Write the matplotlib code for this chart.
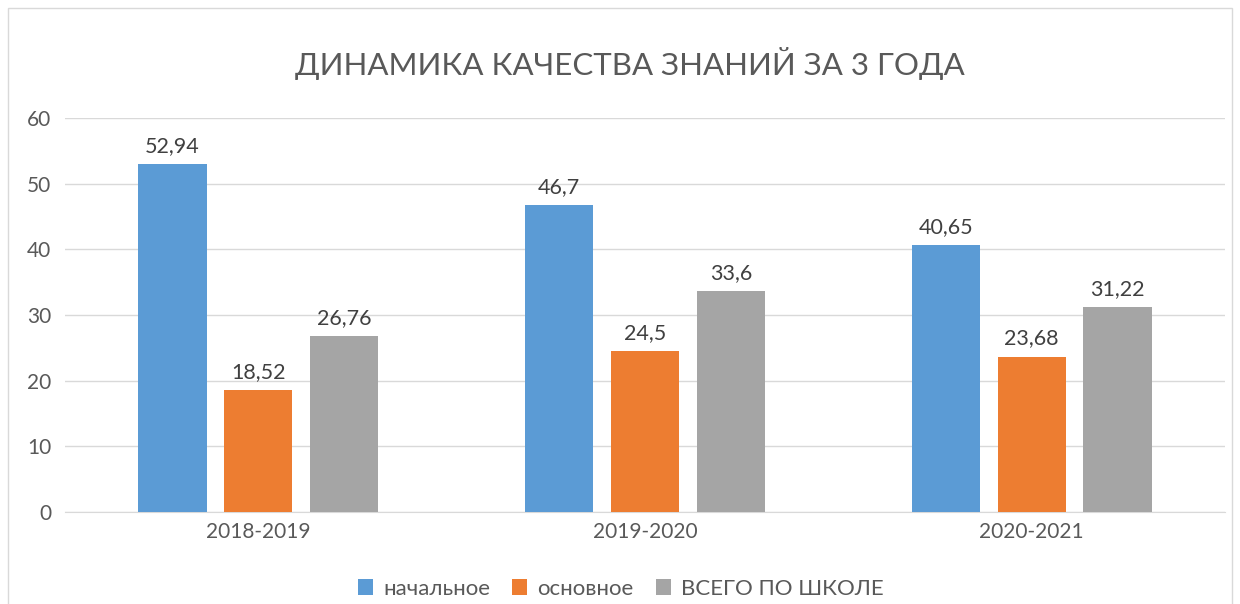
import numpy as np
import matplotlib
matplotlib.use('Agg')
from matplotlib import pyplot as plt
from matplotlib.patches import Rectangle

plt.rcParams['font.family'] = ['Lato', 'DejaVu Sans']

years = ['2018-2019', '2019-2020', '2020-2021']
series = ['начальное', 'основное', 'ВСЕГО ПО ШКОЛЕ']
nachalnoe = [52.94, 46.7, 40.65]
osnovnoe = [18.52, 24.5, 23.68]
vsego = [26.76, 33.6, 31.22]
colors = ['#5B9BD5', '#ED7D31', '#A5A5A5']
txt = '#595959'

fig = plt.figure(figsize=(12.4, 6.04), dpi=100)
fig.patches.append(Rectangle((8/1240, -0.01), 1224/1240, 1 - 8/604 + 0.01,
                             transform=fig.transFigure, fill=False,
                             edgecolor='#D9D9D9', lw=1))
ax = fig.add_axes([65/1240, 92/604, 1160/1240, 394/604])

x = np.arange(len(years))
w = 0.176
step = 0.222
for i, (vals, name) in enumerate(zip([nachalnoe, osnovnoe, vsego], series)):
    pos = x + (i - 1)*step
    bars = ax.bar(pos, vals, w, color=colors[i], label=name, zorder=3)
    for b, v in zip(bars, vals):
        ax.annotate(('%g' % v).replace('.', ','),
                    (b.get_x() + b.get_width()/2, v),
                    xytext=(0, 6), textcoords='offset points',
                    ha='center', va='bottom', fontsize=15.5, color='#404040')

ax.set_xlim(-0.5, 2.5)
ax.set_ylim(0, 60)
ax.set_yticks(range(0, 61, 10))
ax.set_xticks(x)
ax.set_xticklabels(years)
ax.grid(axis='y', color='#D9D9D9', lw=1, zorder=0)
for s in ['top', 'right', 'left']:
    ax.spines[s].set_visible(False)
ax.spines['bottom'].set_color('#D9D9D9')
ax.tick_params(axis='both', length=0, labelsize=15, colors=txt, pad=7)
ax.tick_params(axis='y', pad=10)

fig.text(0.508, 0.895, 'ДИНАМИКА КАЧЕСТВА ЗНАНИЙ ЗА 3 ГОДА',
         ha='center', va='center', fontsize=22.5, color=txt)
ax.legend(loc='center', bbox_to_anchor=(0.479, -0.195), ncol=3, frameon=False,
          fontsize=16, labelcolor=txt, handlelength=0.68, handleheight=0.68,
          columnspacing=1.0, handletextpad=0.45)

fig.savefig('out.png')
